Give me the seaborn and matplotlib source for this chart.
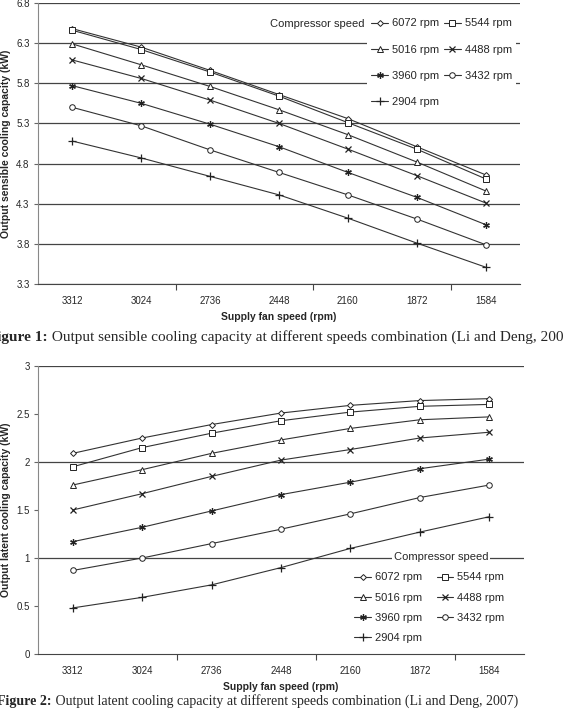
import numpy as np
import pandas as pd
import matplotlib
matplotlib.use("Agg")
import matplotlib.pyplot as plt
import seaborn as sns

# fan speed categories (x axis, descending)
fan_speeds = [3312, 3024, 2736, 2448, 2160, 1872, 1584]
comp_speeds = ["6072 rpm", "5544 rpm", "5016 rpm", "4488 rpm", "3960 rpm", "3432 rpm", "2904 rpm"]

# output sensible cooling capacity (kW)
sensible_6072 = [6.48, 6.25, 5.96, 5.66, 5.36, 5.01, 4.66]
sensible_5544 = [6.46, 6.22, 5.94, 5.64, 5.31, 4.98, 4.61]
sensible_5016 = [6.29, 6.03, 5.76, 5.47, 5.16, 4.82, 4.46]
sensible_4488 = [6.09, 5.86, 5.59, 5.30, 4.98, 4.65, 4.31]
sensible_3960 = [5.77, 5.55, 5.29, 5.01, 4.69, 4.38, 4.04]
sensible_3432 = [5.50, 5.27, 4.97, 4.69, 4.41, 4.11, 3.79]
sensible_2904 = [5.08, 4.87, 4.64, 4.41, 4.12, 3.81, 3.51]

# output latent cooling capacity (kW)
latent_6072 = [2.09, 2.25, 2.39, 2.51, 2.59, 2.64, 2.66]
latent_5544 = [1.95, 2.15, 2.30, 2.43, 2.52, 2.58, 2.60]
latent_5016 = [1.76, 1.92, 2.09, 2.23, 2.35, 2.44, 2.47]
latent_4488 = [1.50, 1.67, 1.85, 2.02, 2.13, 2.25, 2.31]
latent_3960 = [1.17, 1.32, 1.49, 1.66, 1.79, 1.93, 2.03]
latent_3432 = [0.87, 1.00, 1.15, 1.30, 1.46, 1.63, 1.76]
latent_2904 = [0.48, 0.59, 0.72, 0.90, 1.10, 1.27, 1.43]

sensible = [sensible_6072, sensible_5544, sensible_5016, sensible_4488,
            sensible_3960, sensible_3432, sensible_2904]
latent = [latent_6072, latent_5544, latent_5016, latent_4488,
          latent_3960, latent_3432, latent_2904]

# excel style markers: hollow ones + line art
markers = ["D", "s", "^", "x", (6, 2, 0), "o", "+"]
msizes = [3.0, 4.0, 3.8, 4.2, 4.8, 4.0, 5.5]

sns.set_style("white")
plt.rcParams["font.family"] = ["Liberation Sans", "DejaVu Sans"]

W, H = 563, 711
fig = plt.figure(figsize=(W / 100, H / 100), dpi=100)


def fx(px):
    return px / W


def fy(py):
    return 1 - py / H


def draw_panel(ax, series, ylim, yticks, grid_vals, ylabel):
    for vals, lab, mk, ms in zip(series, comp_speeds, markers, msizes):
        df = pd.DataFrame({"fan": fan_speeds, "cap": vals})
        kw = dict(markerfacecolor="white", markeredgecolor="#222", markeredgewidth=0.7)
        if mk in ("x", "+") or isinstance(mk, tuple):
            kw = dict(markeredgecolor="#222", markeredgewidth=0.9)
        sns.lineplot(data=df, x="fan", y="cap", ax=ax, color="#333", lw=0.8,
                     marker=mk, markersize=ms, label=lab, zorder=3, **kw)
    for g in grid_vals:
        ax.axhline(g, color="#444", lw=0.9, zorder=1)
    ax.set_xlim(fan_speeds[0] + 144, fan_speeds[-1] - 144)
    ax.set_ylim(*ylim)
    ax.set_xticks(fan_speeds)
    ax.set_xticklabels([str(v) for v in fan_speeds], fontsize=7)
    ax.set_xticks([2880, 2304, 1728], minor=True)
    ax.tick_params(axis="x", which="major", length=0, pad=9)
    ax.tick_params(axis="x", which="minor", length=4, width=0.8, color="#444", bottom=True)
    ax.set_yticks(yticks)
    ax.set_yticklabels([("%g" % v) for v in yticks], fontsize=7)
    ax.tick_params(axis="y", length=3, width=0.8, color="#666", left=True, pad=3)
    for s in ["top", "right"]:
        ax.spines[s].set_visible(False)
    ax.spines["left"].set_color("#888")
    ax.spines["bottom"].set_color("#444")
    ax.set_xlabel("Supply fan speed (rpm)", fontsize=7.5, fontweight="bold", labelpad=4)
    ax.set_ylabel(ylabel, fontsize=7.5, fontweight="bold")
    ax.yaxis.set_label_coords(-0.056, 0.5)
    ax.get_legend().remove()


def panel_legend(ax, x, y, spacing, colspace):
    h, l = ax.get_legend_handles_labels()
    order = [0, 2, 4, 6, 1, 3, 5]
    leg = ax.legend([h[i] for i in order], [l[i] for i in order], ncol=2,
                    loc="upper left", bbox_to_anchor=(fx(x), fy(y)),
                    bbox_transform=fig.transFigure, fontsize=8, frameon=True,
                    fancybox=False, edgecolor="none", facecolor="white", framealpha=1,
                    handlelength=1.5, handletextpad=0.35, labelspacing=spacing,
                    columnspacing=colspace, borderpad=0.4, borderaxespad=0)
    leg.set_zorder(5)
    return leg


# ---- figure 1: sensible capacity
ax1 = fig.add_axes([fx(38), fy(284), fx(520 - 38), (284 - 3) / H])
draw_panel(ax1, sensible, (3.3, 6.8), np.round(np.arange(3.3, 6.81, 0.5), 1),
           np.round(np.arange(3.3, 6.81, 0.5), 1), "Output sensible cooling capacity (kW)")
panel_legend(ax1, 367, 14, 1.45, 0.45)
fig.text(fx(364), fy(24), "Compressor speed", fontsize=8, ha="right", va="center")

# ---- figure 2: latent capacity
ax2 = fig.add_axes([fx(38), fy(654), fx(524 - 38), (654 - 366) / H])
draw_panel(ax2, latent, (0, 3), np.arange(0, 3.01, 0.5), [1, 2, 3],
           "Output latent cooling capacity (kW)")
panel_legend(ax2, 350, 568, 0.92, 1.3)
fig.text(fx(441), fy(557), "Compressor speed", fontsize=8, ha="center", va="center",
         bbox=dict(facecolor="white", edgecolor="none", pad=1.5), zorder=6)


# captions (bold label + plain text)
def caption(x, y, label, text, size):
    t1 = fig.text(fx(x), fy(y), label, fontsize=size, fontweight="bold",
                  family="Liberation Serif", ha="left", va="center")
    ax2.annotate(text, xy=(1, 0), xycoords=t1, va="bottom", ha="left",
                 fontsize=size, family="Liberation Serif", annotation_clip=False)


caption(-12, 337, "Figure 1:", " Output sensible cooling capacity at different speeds combination (Li and Deng, 2007)", 11)
caption(-3, 702, "Figure 2:", " Output latent cooling capacity at different speeds combination (Li and Deng, 2007)", 10)

fig.savefig("out.png", dpi=100, facecolor="white")
